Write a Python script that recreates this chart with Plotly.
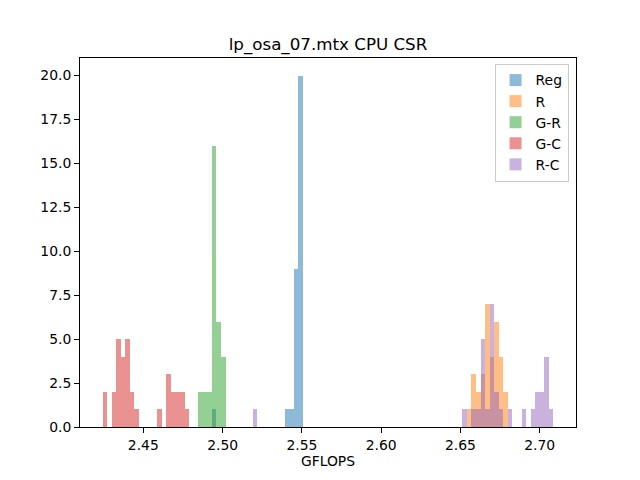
import plotly.graph_objects as go

# Common histogram bins (99 equal-width bins spanning all samples)
bin_start = 2.42428
bin_width = 0.0028725

series_names = ["Reg", "R", "G-R", "G-C", "R-C"]
colors = ["#1f77b4", "#ff7f0e", "#2ca02c", "#d62728", "#9467bd"]

# bin indices and counts per series
reg_bins = [24, 40, 41, 42, 43]
reg_counts = [1, 1, 1, 9, 20]

r_bins = [80, 81, 82, 83, 84, 85, 86, 87, 88]
r_counts = [1, 3, 2, 3, 7, 4, 6, 4, 2]

gr_bins = [21, 22, 23, 24, 25, 26]
gr_counts = [2, 2, 2, 16, 6, 4]

gc_bins = [0, 2, 3, 4, 5, 6, 7, 12, 14, 15, 16, 17, 18]
gc_counts = [2, 2, 5, 4, 5, 2, 1, 1, 3, 2, 2, 2, 1]

rc_bins = [33, 79, 81, 82, 83, 84, 85, 86, 87, 89, 92, 94, 95, 96, 97, 98]
rc_counts = [1, 1, 1, 1, 5, 1, 7, 2, 1, 1, 1, 1, 2, 2, 4, 1]

y_ticks = [0, 2.5, 5, 7.5, 10, 12.5, 15, 17.5, 20]
x_ticks = [2.45, 2.50, 2.55, 2.60, 2.65, 2.70]

all_bins = [reg_bins, r_bins, gr_bins, gc_bins, rc_bins]
all_counts = [reg_counts, r_counts, gr_counts, gc_counts, rc_counts]

fig = go.Figure()
for name, col, bins, counts in zip(series_names, colors, all_bins, all_counts):
    xs = [bin_start + (k + 0.5) * bin_width for k in bins]
    fig.add_trace(go.Bar(
        x=xs, y=counts, width=bin_width, name=name,
        marker=dict(color=col, line=dict(width=0)),
        opacity=0.5,
    ))

n_bins = 99
data_min = bin_start
data_max = bin_start + n_bins * bin_width
pad = 0.05 * (data_max - data_min)

font = "DejaVu Sans"
W, H = 632, 472  # page body adds an 8px margin
fig.update_layout(
    width=W, height=H,
    barmode="overlay", bargap=0,
    paper_bgcolor="white", plot_bgcolor="white",
    margin=dict(l=72, r=64, t=50, b=53, pad=0),
    font=dict(family=font, size=13.9, color="black"),
    title=dict(text="lp_osa_07.mtx CPU CSR", x=0.5, xref="paper",
               y=1 - 36 / H, yref="container", yanchor="middle",
               font=dict(size=16.7, family=font, color="black")),
    xaxis=dict(range=[data_min - pad, data_max + pad],
               tickvals=x_ticks, ticktext=[f"{v:.2f}" for v in x_ticks],
               ticks="outside", ticklen=4.9, tickwidth=1.1, tickcolor="black",
               showline=True, linecolor="black", linewidth=1.1, mirror=True,
               showgrid=False, zeroline=False, automargin=False,
               title=dict(text="GFLOPS", standoff=4, font=dict(size=13.9))),
    yaxis=dict(range=[0, 21],
               tickvals=y_ticks, ticktext=[f"{v:.1f}" for v in y_ticks],
               ticks="outside", ticklen=4.9, tickwidth=1.1, tickcolor="black",
               showline=True, linecolor="black", linewidth=1.1, mirror=True,
               showgrid=False, zeroline=False, automargin=False),
    legend=dict(x=0.985, y=0.985, xanchor="right", yanchor="top",
                bgcolor="rgba(255,255,255,0.8)", bordercolor="#cccccc",
                borderwidth=1, font=dict(size=13.9), tracegroupgap=0,
                itemwidth=30),
    showlegend=True,
)

fig.write_html("out.html")
